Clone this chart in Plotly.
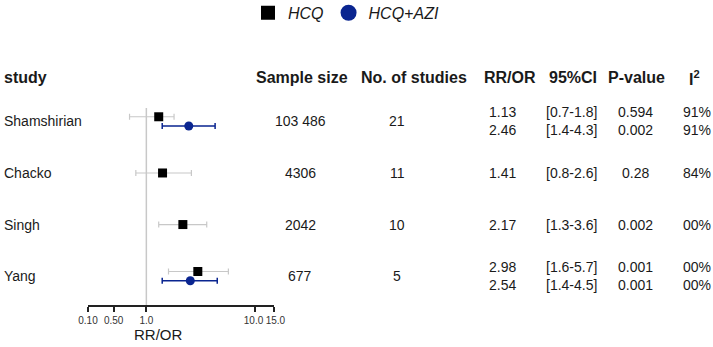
import math
import plotly.graph_objects as go

# ---------------- data ----------------
studies = ["Shamshirian", "Chacko", "Singh", "Yang"]
sample_size = ["103 486", "4306", "2042", "677"]
n_studies = ["21", "11", "10", "5"]

# HCQ (all four studies)
hcq_est = [1.3, 1.41, 2.17, 2.98]      # plotted point estimate
hcq_lo = [0.7, 0.8, 1.3, 1.6]
hcq_hi = [1.8, 2.6, 3.6, 5.7]

# HCQ+AZI (Shamshirian and Yang only)
azi_studies = ["Shamshirian", "Yang"]
azi_est = [2.46, 2.54]
azi_lo = [1.4, 1.4]
azi_hi = [4.3, 4.5]

# table columns (one entry per study; two lines where both series exist)
rr_text = [["1.13", "2.46"], ["1.41"], ["2.17"], ["2.98", "2.54"]]
ci_text = [["[0.7-1.8]", "[1.4-4.3]"], ["[0.8-2.6]"], ["[1.3-3.6]"], ["[1.6-5.7]", "[1.4-4.5]"]]
p_text = [["0.594", "0.002"], ["0.28"], ["0.002"], ["0.001", "0.001"]]
i2_text = [["91%", "91%"], ["84%"], ["00%"], ["00%", "00%"]]

headers = ["study", "Sample size", "No. of studies", "RR/OR", "95%CI", "P-value", "I<sup>2</sup>"]
tick_labels = ["0.10", "0.50", "1.0", "10.0\u00a0", "\u00a015.0"]
tick_pos = [0.29, 0.5, 1.0, 10.0, 15.0]  # first tick sits at the (broken) axis start

# ---------------- style ----------------
W, H = 713, 347
BLUE = "#0a2590"
GRAY = "#c8c8c8"
TXT = "#1a1a1a"
FONT = "Liberation Sans, Arial, sans-serif"
PAIR_OFF = 0.09

def px(x):
    return x / W

row_idx = {s: i for i, s in enumerate(studies)}
has_pair = {s: (s in azi_studies) for s in studies}

hcq_y = [row_idx[s] - (PAIR_OFF if has_pair[s] else 0) for s in studies]
azi_y = [row_idx[s] + PAIR_OFF for s in azi_studies]

fig = go.Figure()

fig.add_trace(go.Scatter(
    x=hcq_est, y=hcq_y, mode="markers", name="HCQ", showlegend=False,
    marker=dict(symbol="square", size=9, color="black"),
    error_x=dict(type="data", symmetric=False,
                 array=[h - e for h, e in zip(hcq_hi, hcq_est)],
                 arrayminus=[e - l for e, l in zip(hcq_est, hcq_lo)],
                 color=GRAY, thickness=1.2, width=3),
    hoverinfo="skip",
))
fig.add_trace(go.Scatter(
    x=azi_est, y=azi_y, mode="markers", name="HCQ+AZI", showlegend=False,
    marker=dict(symbol="circle", size=9, color=BLUE),
    error_x=dict(type="data", symmetric=False,
                 array=[h - e for h, e in zip(azi_hi, azi_est)],
                 arrayminus=[e - l for e, l in zip(azi_est, azi_lo)],
                 color=BLUE, thickness=1.5, width=3),
    hoverinfo="skip",
))
# legend-only traces (bigger symbols as in the reference legend)
fig.add_trace(go.Scatter(x=[None], y=[None], mode="markers", name="HCQ",
                         marker=dict(symbol="square", size=14, color="black")))
fig.add_trace(go.Scatter(x=[None], y=[None], mode="markers", name="HCQ+AZI",
                         marker=dict(symbol="circle", size=16, color=BLUE)))

ann = []
# headers
hdr_y = 1 - 78 / H
hdr_x = [2, 302, 414, 510, 573, 636, 694]
for i, (h, x) in enumerate(zip(headers, hdr_x)):
    ann.append(dict(text="<b>%s</b>" % h, x=px(x), y=hdr_y, xref="paper", yref="paper",
                    xanchor="left" if i == 0 else "center", yanchor="middle", showarrow=False,
                    font=dict(size=16, color=TXT, family=FONT)))

col_x = {"rr": 502, "ci": 571, "p": 635, "i2": 697}
for i, s in enumerate(studies):
    ann.append(dict(text=s, x=px(2), y=i, xref="paper", yref="y", xanchor="left",
                    yanchor="middle", showarrow=False, font=dict(size=14, color=TXT, family=FONT)))
    ann.append(dict(text=sample_size[i], x=px(300), y=i, xref="paper", yref="y", xanchor="center",
                    yanchor="middle", showarrow=False, font=dict(size=14, color=TXT, family=FONT)))
    ann.append(dict(text=n_studies[i], x=px(397), y=i, xref="paper", yref="y", xanchor="center",
                    yanchor="middle", showarrow=False, font=dict(size=14, color=TXT, family=FONT)))
    for key, col in (("rr", rr_text), ("ci", ci_text), ("p", p_text), ("i2", i2_text)):
        ann.append(dict(text="<br>".join(col[i]), x=px(col_x[key]), y=i, xref="paper", yref="y",
                        xanchor="center", yanchor="middle", showarrow=False, align="center",
                        font=dict(size=14, color=TXT, family=FONT)))

ann.append(dict(text="RR/OR", x=px(158), y=1 - 334 / H, xref="paper", yref="paper",
                xanchor="center", yanchor="middle", showarrow=False,
                font=dict(size=15, color=TXT, family=FONT)))

y_dom = [(H - 305) / H, (H - 108) / H]
fig.add_shape(type="line", x0=1, x1=1, xref="x", y0=y_dom[0], y1=y_dom[1], yref="paper",
              line=dict(color=GRAY, width=1.5), layer="below")

fig.update_layout(
    width=W, height=H, margin=dict(l=0, r=0, t=0, b=0, autoexpand=False),
    paper_bgcolor="white", plot_bgcolor="white",
    font=dict(family=FONT, color=TXT),
    annotations=ann,
    legend=dict(orientation="h", x=px(248), y=1.012, xanchor="left", yanchor="top",
                font=dict(size=16, style="italic", color=TXT, family=FONT),
                itemclick=False, itemdoubleclick=False, bgcolor="rgba(0,0,0,0)"),
    xaxis=dict(type="log", range=[math.log10(0.29), math.log10(15)],
               domain=[px(88), px(274)], showgrid=False, zeroline=False,
               showline=True, linecolor="#222", linewidth=1.5,
               ticks="outside", ticklen=5, tickwidth=1.5, tickcolor="#222",
               tickmode="array", tickvals=tick_pos, ticktext=tick_labels,
               tickangle=0, automargin=False,
               tickfont=dict(size=10, color="#333", family=FONT)),
    yaxis=dict(range=[3.56, -0.26], domain=y_dom, visible=False, automargin=False),
)

fig.write_html("out.html", config={"displayModeBar": False},
               post_script="document.body.style.margin='0';document.body.style.overflow='hidden';")
